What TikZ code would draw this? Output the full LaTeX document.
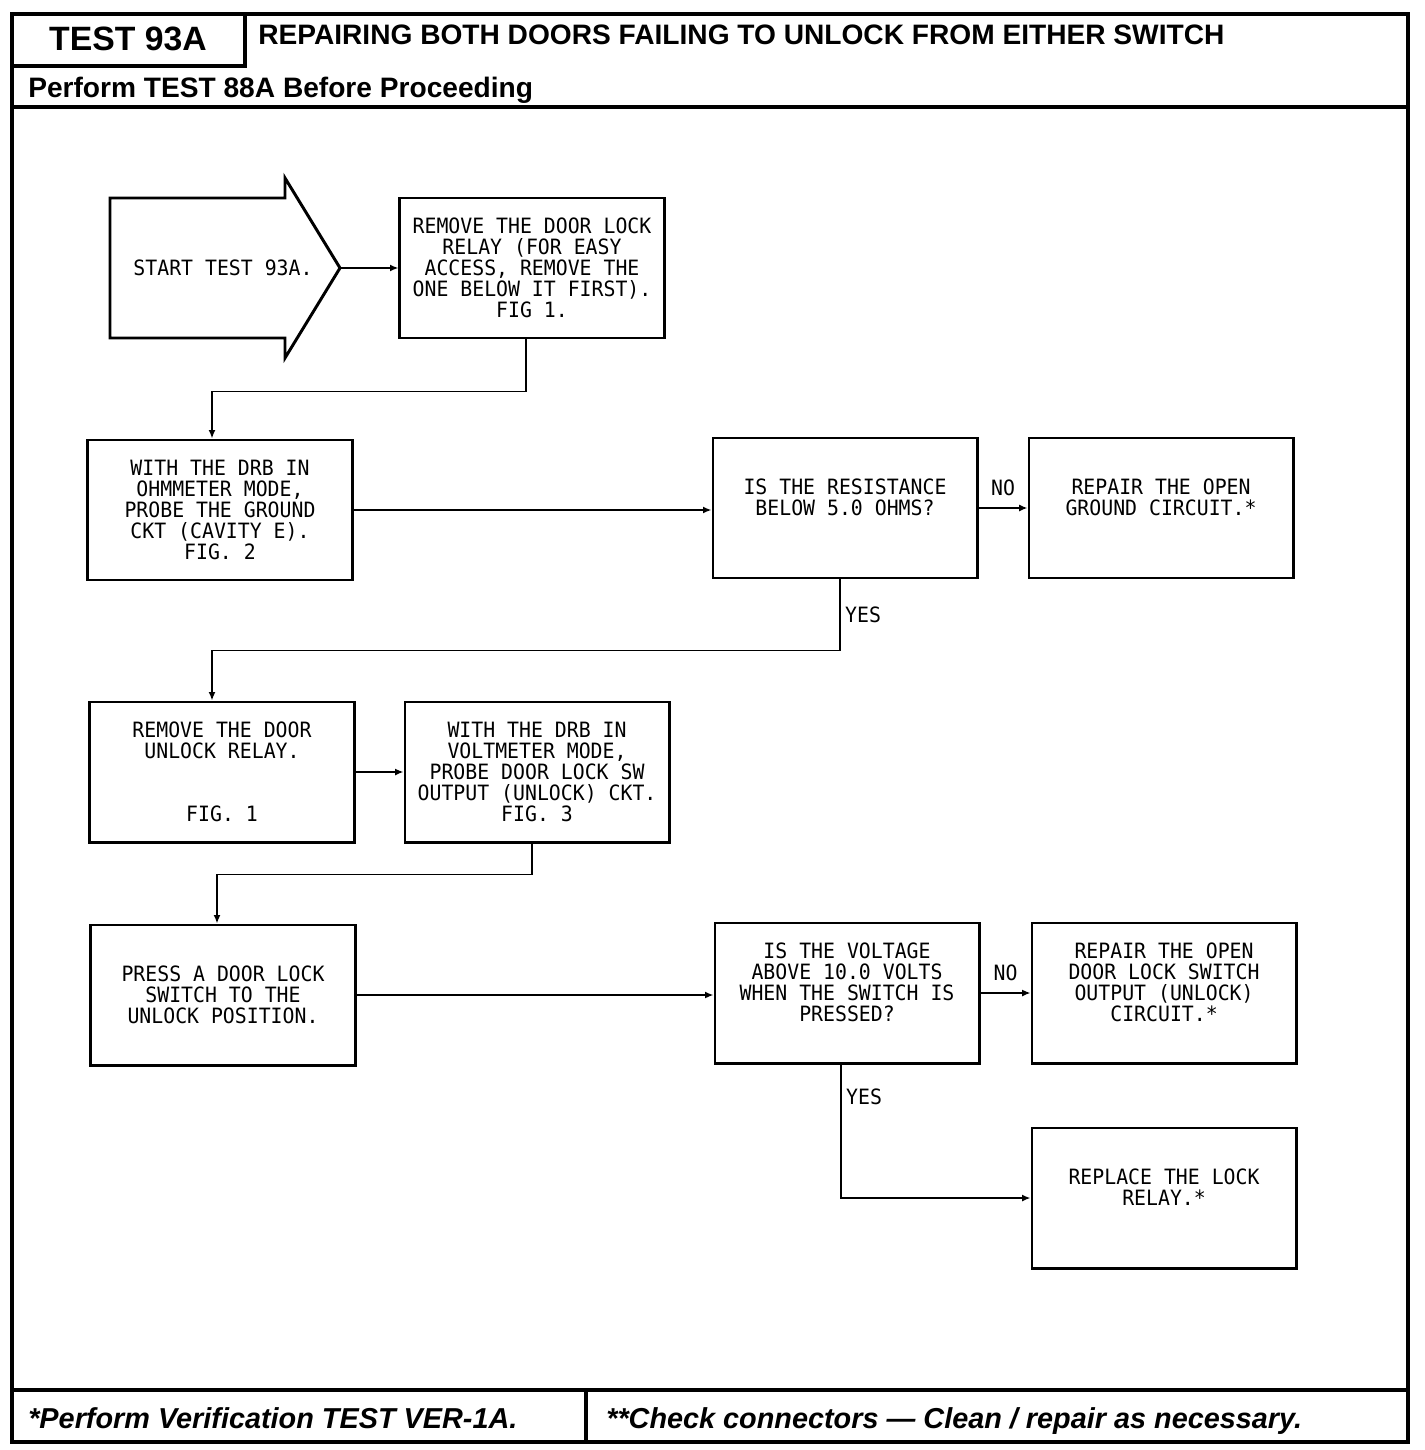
\documentclass[tikz,border=0pt]{standalone}
\usepackage{fontspec}
\setmainfont{Liberation Sans}
\newfontfamily\boxfont[FakeStretch=0.94]{DejaVu Sans Mono}
\usepackage{tikz}
\usetikzlibrary{positioning,arrows.meta}

\begin{document}
\begin{tikzpicture}[
  x=0.025cm, y=-0.025cm,
  line/.style={-{Latex[length=6pt,width=5pt]}, line width=1.4pt},
  frame/.style={line width=2.2pt},
  box/.style={draw, line width=2.1pt, minimum width=6.6cm, minimum height=3.5cm, align=center, inner sep=0pt, font=\boxfont\fontsize{15pt}{15pt}\selectfont},
  tag/.style={font=\boxfont\fontsize{15pt}{15pt}\selectfont, inner sep=3pt},
  head/.style={font=\bfseries\fontsize{20pt}{24pt}\selectfont, inner sep=0pt, anchor=base west},
  note/.style={font=\bfseries\itshape\fontsize{20.5pt}{24pt}\selectfont, inner sep=0pt, anchor=base west}
]
\useasboundingbox (0,0) rectangle (1424,1450);

% Sheet frame
\draw[frame] (12,14) rectangle (1408,1442);
\draw[frame] (245,14) -- (245,66) -- (12,66);
\draw[frame] (12,107) -- (1408,107);
\draw[frame] (12,1390) -- (1408,1390);
\draw[frame] (586,1390) -- (586,1442);

\node[head, anchor=base, font=\bfseries\fontsize{24pt}{28pt}\selectfont] (testno) at (128,51) {TEST 93A};
\node[head] (title) at (258,45) {REPAIRING BOTH DOORS FAILING TO UNLOCK FROM EITHER SWITCH};
\node[head] (prereq) at (28,98) {Perform TEST 88A Before Proceeding};

% Start arrow
\node[tag] (start) at (223,268) {START TEST 93A.};
\draw[line width=2.1pt] (110,198) -- (285,198) -- (285,178) -- (340,268) -- (285,358) -- (285,338) -- (110,338) -- cycle;
\coordinate (starttip) at (340,268);

% Steps
\node[box] (relay) at (532,268) {REMOVE THE DOOR LOCK\\RELAY (FOR EASY\\ACCESS, REMOVE THE\\ONE BELOW IT FIRST).\\FIG 1.};
\node[box] (ohm) at (220,510) {WITH THE DRB IN\\OHMMETER MODE,\\PROBE THE GROUND\\CKT (CAVITY E).\\FIG. 2};
\node[box] (resist) at (845,508) {IS THE RESISTANCE\\BELOW 5.0 OHMS?\\~};
\node[box, right=1.225cm of resist] (fixgnd) {REPAIR THE OPEN\\GROUND CIRCUIT.*\\~};
\node[box] (unlock) at (222,772) {REMOVE THE DOOR\\UNLOCK RELAY.\\~\\~\\FIG. 1};
\node[box, right=1.2cm of unlock] (volt) {WITH THE DRB IN\\VOLTMETER MODE,\\PROBE DOOR LOCK SW\\OUTPUT (UNLOCK) CKT.\\FIG. 3};
\node[box] (press) at (223,995) {PRESS A DOOR LOCK\\SWITCH TO THE\\UNLOCK POSITION.};
\node[box] (voltq) at (847,993) {IS THE VOLTAGE\\ABOVE 10.0 VOLTS\\WHEN THE SWITCH IS\\PRESSED?\\~};
\node[box, right=1.25cm of voltq] (fixsw) {REPAIR THE OPEN\\DOOR LOCK SWITCH\\OUTPUT (UNLOCK)\\CIRCUIT.*\\~};
\node[box, below=1.55cm of fixsw] (relayx) {REPLACE THE LOCK\\RELAY.*\\~};

% Connectors
\draw[line] (starttip) -- (relay.west);
\draw[line] ([xshift=-6*0.025cm]relay.south) -- ++(0,52) -| ([xshift=-8*0.025cm]ohm.north);
\draw[line] (ohm.east) -- (ohm.east -| resist.west);
\draw[line] (resist.east) -- node[tag, above=5pt]{NO} (fixgnd.west);
\draw[line] ([xshift=-5*0.025cm]resist.south) -- node[tag, right]{YES} ++(0,71) -| ([xshift=-10*0.025cm]unlock.north);
\draw[line] (unlock.east) -- (volt.west);
\draw[line] ([xshift=-5*0.025cm]volt.south) -- ++(0,31) -| ([xshift=-6*0.025cm]press.north);
\draw[line] (press.east) -- (press.east -| voltq.west);
\draw[line] (voltq.east) -- node[tag, above=5pt]{NO} (fixsw.west);
\draw[line] ([xshift=-6*0.025cm]voltq.south) |- node[tag, pos=0.12, right]{YES} (relayx.west);

% Footer notes
\node[note] (verify) at (28,1428) {*Perform Verification TEST VER-1A.};
\node[note] (connect) at (606,1428) {**Check connectors — Clean / repair as necessary.};
\end{tikzpicture}
\end{document}
